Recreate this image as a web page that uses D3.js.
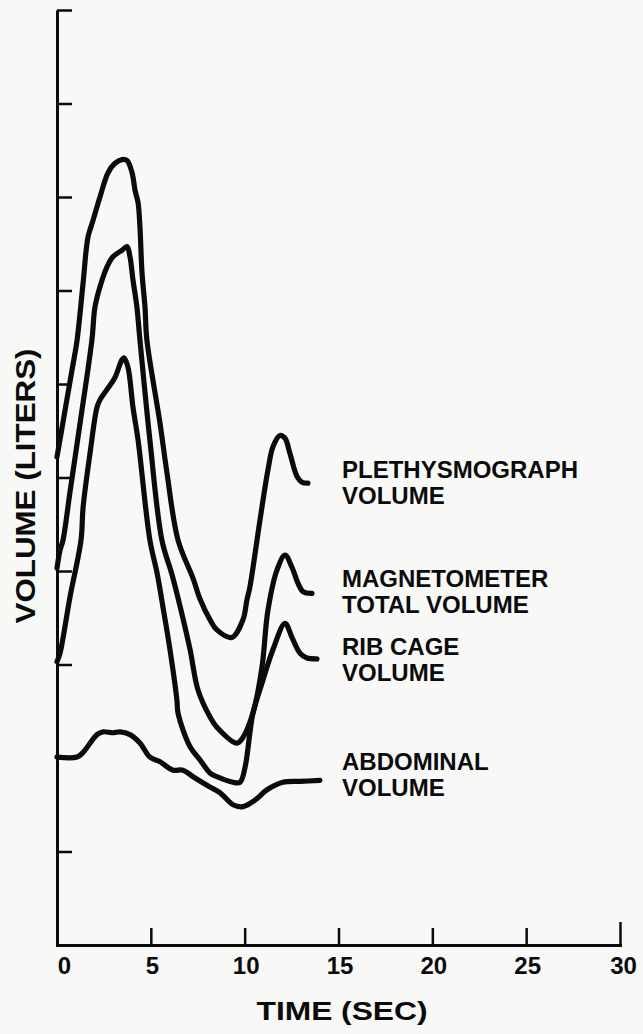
<!DOCTYPE html>
<html>
<head>
<meta charset="utf-8">
<script src="https://cdn.jsdelivr.net/npm/d3@7"></script>
<style>
body { margin: 0; background: #f8f8f6; }
</style>
</head>
<body>
<svg id="chart"></svg>
<script>
// tick values (y ticks carry no labels in the original)
var xTickValues = [0, 5, 10, 15, 20, 25, 30];
var yTickValues = [0, 1, 2, 3, 4, 5, 6, 7, 8, 9, 10];

// time in sec, volume in tick units
var plethTime = [0, 0.43, 0.80, 1.07, 1.39, 1.65, 1.92, 2.29, 2.72, 3.09, 3.46, 3.73, 4.00, 4.16, 4.32, 4.42, 4.53, 4.69, 4.79, 5.49, 5.86, 6.45, 7.25, 7.62, 8.15, 8.52, 9.32, 9.91, 10.12, 10.28, 10.82, 11.24, 11.51, 11.88, 12.15, 12.41, 12.79, 13.05, 13.37];
var plethVolume = [5.22, 5.72, 6.15, 6.47, 7.08, 7.57, 7.75, 8.00, 8.26, 8.36, 8.40, 8.39, 8.26, 8.07, 7.94, 7.68, 7.19, 6.82, 6.47, 5.58, 5.05, 4.33, 3.92, 3.70, 3.48, 3.37, 3.29, 3.48, 3.69, 3.83, 4.55, 5.08, 5.33, 5.45, 5.42, 5.26, 5.01, 4.95, 4.94];

var magTime = [0, 0.16, 0.32, 0.69, 1.23, 1.86, 2.02, 2.29, 2.66, 2.98, 3.46, 3.73, 3.89, 4.05, 4.26, 4.42, 4.95, 5.59, 6.13, 6.61, 7.09, 7.51, 8.15, 8.52, 9.59, 9.91, 10.44, 10.92, 11.24, 11.72, 12.15, 12.52, 12.84, 13.11, 13.59];
var magVolume = [4.03, 4.22, 4.33, 4.84, 5.58, 6.47, 6.82, 7.04, 7.25, 7.36, 7.43, 7.47, 7.36, 7.11, 6.82, 6.47, 5.40, 4.33, 3.96, 3.58, 3.16, 2.73, 2.44, 2.33, 2.16, 2.22, 2.48, 2.97, 3.58, 4.01, 4.17, 4.04, 3.87, 3.78, 3.76];

var ribTime = [0, 0.16, 0.69, 1.28, 1.39, 1.76, 2.13, 2.29, 2.66, 3.09, 3.46, 3.57, 3.78, 4.05, 4.32, 4.95, 5.33, 5.65, 6.02, 6.39, 6.45, 7.09, 7.62, 8.15, 8.52, 9.38, 9.75, 10.02, 10.28, 10.44, 10.97, 11.51, 12.15, 12.52, 12.95, 13.32, 13.85];
var ribVolume = [3.03, 3.12, 3.72, 4.33, 4.68, 5.26, 5.75, 5.83, 5.94, 6.07, 6.26, 6.28, 6.18, 5.75, 5.40, 4.33, 3.98, 3.61, 3.16, 2.62, 2.48, 2.12, 1.98, 1.84, 1.80, 1.74, 1.74, 1.90, 2.27, 2.48, 2.83, 3.16, 3.44, 3.29, 3.12, 3.07, 3.06];

var abdTime = [0, 1.07, 1.39, 2.13, 2.45, 2.98, 3.36, 3.89, 4.42, 4.95, 5.49, 6.18, 6.71, 7.25, 8.15, 8.68, 9.38, 9.91, 10.55, 11.19, 12.04, 12.95, 14.01];
var abdVolume = [2.01, 2.01, 2.06, 2.25, 2.28, 2.27, 2.28, 2.25, 2.16, 2.01, 1.96, 1.87, 1.87, 1.80, 1.69, 1.63, 1.50, 1.48, 1.55, 1.66, 1.74, 1.75, 1.76];

var seriesLabels = [
	["PLETHYSMOGRAPH", "VOLUME"],
	["MAGNETOMETER", "TOTAL VOLUME"],
	["RIB CAGE", "VOLUME"],
	["ABDOMINAL", "VOLUME"]
];

var xTitle = "TIME (SEC)";
var yTitle = "VOLUME (LITERS)";

// layout
var width = 643, height = 1034;
var font = "'Liberation Sans', Arial, sans-serif";
var ink = "#0b0b0b";
var labelX = 342;
var labelBaselines = [478, 587, 655, 770];
var lineGap = 26;

var svg = d3.select("#chart")
	.attr("width", width)
	.attr("height", height)
	.style("background", "#f8f8f6");

var x = d3.scaleLinear().domain([0, 30]).range([57, 620]);
var y = d3.scaleLinear().domain([0, 10]).range([945, 10]);

// y axis, ticks point inward, no labels
var gy = svg.append("g")
	.attr("transform", "translate(" + x(0) + ",0)")
	.call(d3.axisRight(y).tickValues(yTickValues).tickSize(15).tickSizeOuter(0).tickFormat(""));
gy.select(".domain").attr("stroke", ink).attr("stroke-width", 3);
gy.selectAll(".tick line").attr("stroke", ink).attr("stroke-width", 2.5);

// x axis, ticks point up, labels below
var gx = svg.append("g")
	.attr("transform", "translate(0," + y(0) + ")")
	.call(d3.axisBottom(x).tickValues(xTickValues).tickSizeInner(-17).tickSizeOuter(0).tickPadding(12));
gx.select(".domain").attr("stroke", ink).attr("stroke-width", 3).attr("stroke-linecap", "square");
gx.selectAll(".tick line").attr("stroke", ink).attr("stroke-width", 2.5)
	.attr("y2", function(d){ return d === 30 ? -23 : -17; });
gx.selectAll(".tick text")
	.attr("fill", ink)
	.attr("font-family", font)
	.attr("font-weight", "bold")
	.attr("font-size", 24)
	.attr("dx", function(d){ return d === 0 ? 7 : (d === 30 ? 3 : 1); });

svg.append("text")
	.attr("x", 342)
	.attr("y", 1020)
	.attr("text-anchor", "middle")
	.attr("font-family", font)
	.attr("font-weight", "bold")
	.attr("font-size", 25)
	.attr("fill", ink)
	.attr("textLength", 171)
	.attr("lengthAdjust", "spacingAndGlyphs")
	.text(xTitle);

svg.append("text")
	.attr("transform", "translate(35,486) rotate(-90)")
	.attr("text-anchor", "middle")
	.attr("font-family", font)
	.attr("font-weight", "bold")
	.attr("font-size", 27)
	.attr("fill", ink)
	.attr("textLength", 275)
	.attr("lengthAdjust", "spacingAndGlyphs")
	.text(yTitle);

// curves
var series = [
	{ t: plethTime, v: plethVolume },
	{ t: magTime, v: magVolume },
	{ t: ribTime, v: ribVolume },
	{ t: abdTime, v: abdVolume }
];

var line = d3.line()
	.x(function(d){ return x(d[0]); })
	.y(function(d){ return y(d[1]); })
	.curve(d3.curveCatmullRom.alpha(0.5));

series.forEach(function(s, i){
	var pts = d3.zip(s.t, s.v);
	svg.append("path")
		.datum(pts)
		.attr("fill", "none")
		.attr("stroke", ink)
		.attr("stroke-width", 5.2)
		.attr("stroke-linejoin", "round")
		.attr("stroke-linecap", "round")
		.attr("d", line);

	var lab = svg.append("text")
		.attr("font-family", font)
		.attr("font-weight", "bold")
		.attr("font-size", 24)
		.attr("fill", ink);
	seriesLabels[i].forEach(function(txt, j){
		lab.append("tspan")
			.attr("x", labelX)
			.attr("y", labelBaselines[i] + j * lineGap)
			.text(txt);
	});
});
</script>
</body>
</html>
